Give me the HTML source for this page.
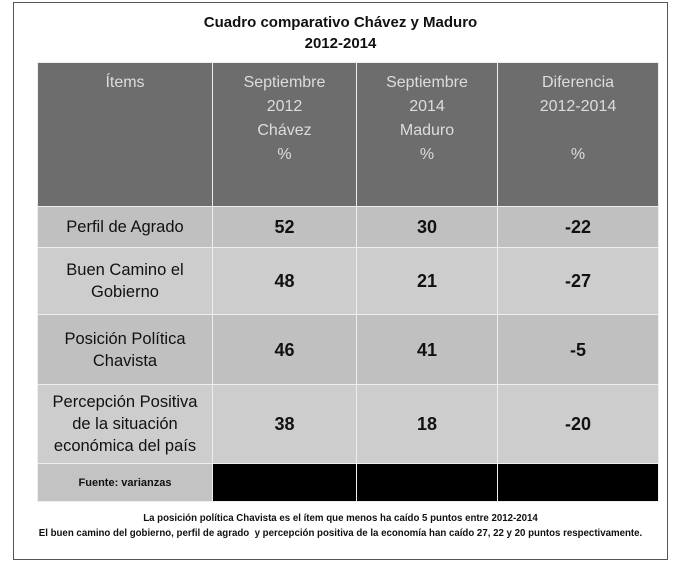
<!DOCTYPE html>
<html><head><meta charset="utf-8"><style>
body{margin:0;width:681px;height:564px;background:#fff;font-family:"Liberation Sans",sans-serif;position:relative;overflow:hidden}
.frame{position:absolute;left:13px;top:2px;width:655px;height:558px;border:1px solid #555;box-sizing:border-box}
.t{position:absolute;left:0;width:681px;text-align:center;font-weight:bold;color:#111}
table{position:absolute;left:37px;top:62px;border-collapse:collapse;table-layout:fixed}
td{border:1px solid #eee;text-align:center;padding:0;color:#111}
.h td{background:#6d6d6d;color:#ddd;font-size:16px;vertical-align:top;padding-top:8px;line-height:24px;height:135px}
.r td{font-size:16.5px;line-height:22px}
.r td.v{font-weight:bold;font-size:18px}
.a td{background:#c0c0c0}.b td{background:#cdcdcd}
.f td{background:#000;height:37px}.f td.l{background:#c3c3c3;font-size:11px;font-weight:bold}
</style></head><body>
<div class="frame"></div>
<div class="t" style="top:12px;font-size:15px;line-height:21px">Cuadro comparativo Chávez y Maduro<br>2012-2014</div>
<table>
<colgroup><col style="width:175px"><col style="width:144px"><col style="width:141px"><col style="width:161px"></colgroup>
<tr class="h"><td>Ítems</td><td>Septiembre<br>2012<br>Chávez<br>%</td><td>Septiembre<br>2014<br>Maduro<br>%</td><td>Diferencia<br>2012-2014<br><br>%</td></tr>
<tr class="r a" style="height:41px"><td>Perfil de Agrado</td><td class="v">52</td><td class="v">30</td><td class="v">-22</td></tr>
<tr class="r b" style="height:67px"><td>Buen Camino el<br>Gobierno</td><td class="v">48</td><td class="v">21</td><td class="v">-27</td></tr>
<tr class="r a" style="height:70px"><td>Posición Política<br>Chavista</td><td class="v">46</td><td class="v">41</td><td class="v">-5</td></tr>
<tr class="r b" style="height:79px"><td>Percepción Positiva<br>de la situación<br>económica del país</td><td class="v">38</td><td class="v">18</td><td class="v">-20</td></tr>
<tr class="f"><td class="l">Fuente: varianzas</td><td></td><td></td><td></td></tr>
</table>
<div class="t" style="top:511px;font-size:9.7px;line-height:15px">La posición política Chavista es el ítem que menos ha caído 5 puntos entre 2012-2014<br>El buen camino del gobierno, perfil de agrado&nbsp; y percepción positiva de la economía han caído 27, 22 y 20 puntos respectivamente.</div>
</body></html>
